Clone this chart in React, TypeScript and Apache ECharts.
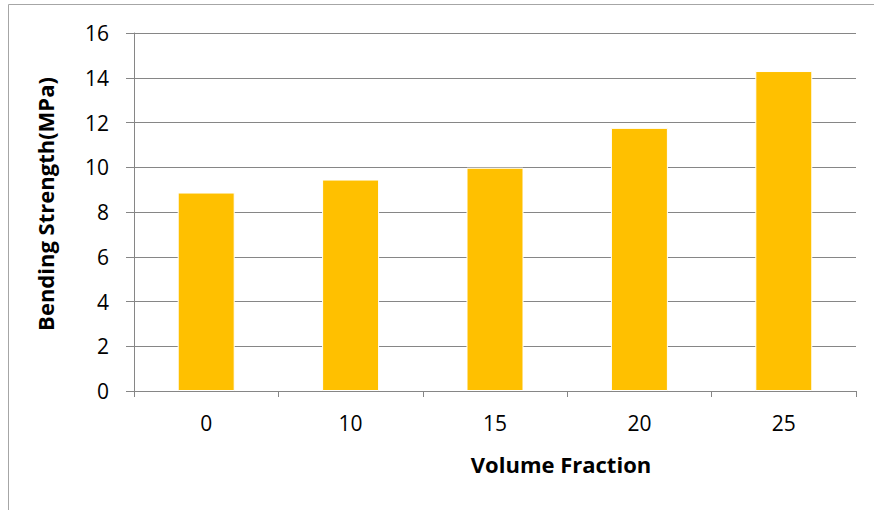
import React, { useEffect, useRef } from "react";
import * as echarts from "echarts";

const categories = ["0", "10", "15", "20", "25"];
const strengthValues = [8.87, 9.45, 9.98, 11.76, 14.3];
const yTicks = { min: 0, max: 16, interval: 2 };
const xTitle = "Volume Fraction";
const yTitle = "Bending Strength(MPa)";

const FONT = "'Open Sans', Lato, sans-serif";

export default function App() {
  const ref = useRef<HTMLDivElement>(null);
  useEffect(() => {
    if (!ref.current) return;
    const chart = echarts.init(ref.current, undefined, { renderer: "svg" });
    chart.setOption({
      animation: false,
      backgroundColor: "#ffffff",
      grid: { left: 134, right: 18, top: 33, bottom: 119 },
      xAxis: {
        type: "category",
        data: categories,
        boundaryGap: true,
        axisLine: { show: true, lineStyle: { color: "#868686", width: 1 } },
        axisTick: { show: true, length: 6, alignWithLabel: false, lineStyle: { color: "#868686" } },
        axisLabel: { color: "#000", fontSize: 21, fontFamily: FONT, margin: 21 },
        splitLine: { show: false },
      },
      yAxis: {
        type: "value",
        min: yTicks.min,
        max: yTicks.max,
        interval: yTicks.interval,
        axisLine: { show: true, lineStyle: { color: "#868686", width: 1 } },
        axisTick: { show: true, length: 8, lineStyle: { color: "#868686" } },
        axisLabel: { color: "#000", fontSize: 21, fontFamily: FONT, margin: 25 },
        splitLine: { show: true, lineStyle: { color: "#868686", width: 1 } },
      },
      series: [
        {
          type: "bar",
          data: strengthValues,
          barWidth: 57,
          itemStyle: { color: "#FFC000", borderColor: "#ffffff", borderWidth: 1 },
        },
      ],
      graphic: [
        {
          type: "rect",
          shape: { x: 8.5, y: 4.5, width: 900, height: 600 },
          style: { fill: "none", stroke: "#a6a6a6", lineWidth: 1 },
          z: 0,
        },
        {
          type: "text",
          x: 561,
          y: 464,
          style: {
            text: xTitle,
            fontSize: 22,
            fontWeight: "bold",
            fontFamily: FONT,
            fill: "#000",
            align: "center",
            verticalAlign: "middle",
          },
        },
        {
          type: "text",
          x: 45,
          y: 204,
          rotation: Math.PI / 2,
          style: {
            text: yTitle,
            fontSize: 22,
            fontWeight: "bold",
            fontFamily: FONT,
            fill: "#000",
            align: "center",
            verticalAlign: "middle",
          },
        },
      ],
    });
    return () => chart.dispose();
  }, []);
  return (
    <div
      ref={ref}
      style={{ position: "fixed", left: 0, top: 0, width: 874, height: 510 }}
    />
  );
}
